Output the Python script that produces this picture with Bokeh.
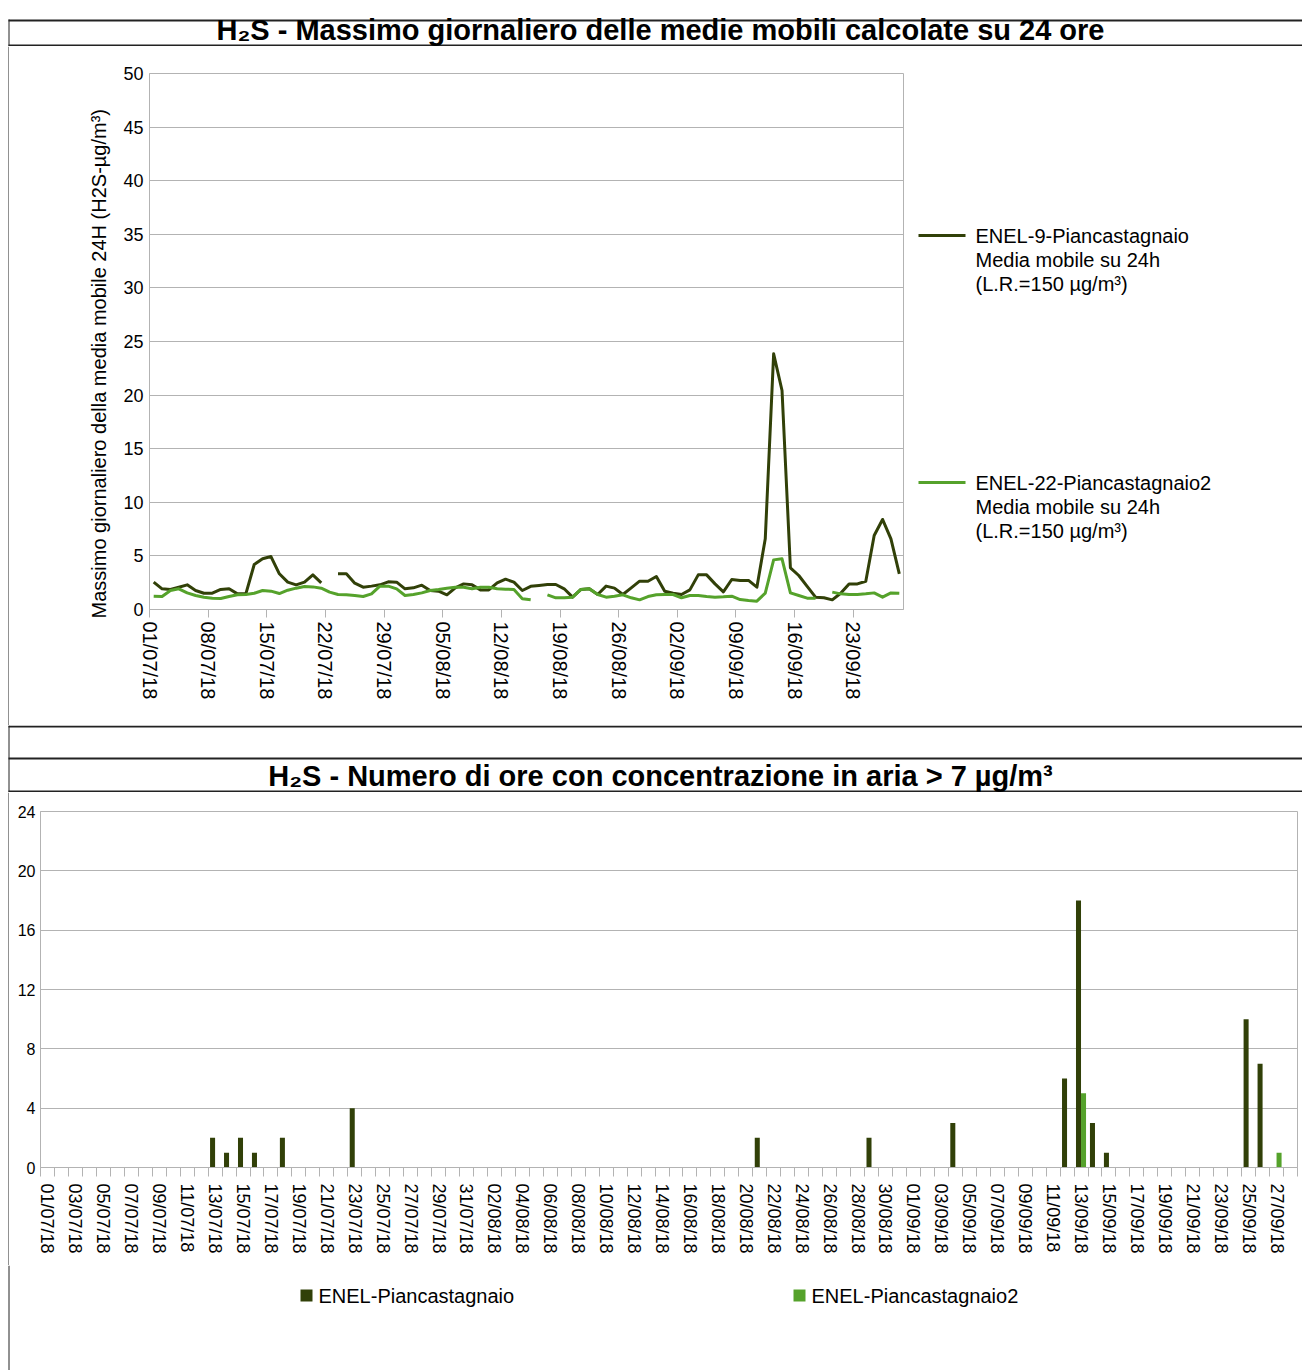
from bokeh.plotting import figure
from bokeh.layouts import column, row
from bokeh.models import Range1d, FixedTicker
from bokeh.core.properties import value
from bokeh.embed import file_html
from bokeh.resources import INLINE
from datetime import date, timedelta

NAN = float("nan")

# ---------------- data ----------------
START = date(2018, 7, 1)
DAYS = [START + timedelta(days=i) for i in range(90)]          # 01/07/18 .. 28/09/18
DATE_LABELS = [d.strftime("%d/%m/%y") for d in DAYS]

# Massimo giornaliero media mobile 24h (µg/m³)
ENEL9 = [2.55, 1.93, 1.87, 2.08, 2.30, 1.77, 1.52, 1.52, 1.87, 1.93,
         1.46, 1.46, 4.20, 4.73, 4.94, 3.33, 2.55, 2.30, 2.55, 3.23,
         2.49, NAN, 3.33, 3.33, 2.46, 2.08, 2.18, 2.30, 2.58, 2.55,
         1.93, 2.02, 2.27, 1.77, 1.71, 1.37, 2.02, 2.39, 2.30, 1.83,
         1.83, 2.49, 2.83, 2.55, 1.77, 2.16, 2.24, 2.33, 2.33, 1.93,
         1.15, 1.87, 1.93, 1.40, 2.18, 1.99, 1.40, 2.02, 2.64, 2.64,
         3.08, 1.71, 1.52, 1.40, 1.83, 3.23, 3.23, 2.39, 1.65, 2.80,
         2.71, 2.71, 2.08, 6.59, 23.85, 20.43, 3.89, 3.17, 2.15, 1.15,
         1.09, 0.90, 1.52, 2.39, 2.39, 2.64, 6.90, 8.40, 6.59, 3.33]
ENEL22 = [1.24, 1.21, 1.77, 1.93, 1.55, 1.31, 1.15, 1.06, 1.03, 1.21,
          1.37, 1.40, 1.52, 1.77, 1.71, 1.49, 1.80, 1.99, 2.15, 2.11,
          1.99, 1.62, 1.40, 1.37, 1.31, 1.21, 1.46, 2.18, 2.18, 1.93,
          1.31, 1.40, 1.55, 1.77, 1.87, 1.99, 2.08, 2.08, 1.93, 2.08,
          2.08, 1.93, 1.90, 1.87, 1.00, 0.90, NAN, 1.37, 1.09, 1.09,
          1.15, 1.87, 1.93, 1.40, 1.15, 1.24, 1.37, 1.09, 0.90, 1.21,
          1.37, 1.40, 1.40, 1.09, 1.31, 1.31, 1.21, 1.15, 1.18, 1.24,
          0.93, 0.84, 0.78, 1.52, 4.63, 4.73, 1.55, 1.31, 1.06, 1.06,
          NAN, 1.62, 1.46, 1.40, 1.40, 1.46, 1.55, 1.15, 1.55, 1.52]

# Numero di ore > 7 µg/m³
HOURS_PIANC = [0, 0, 0, 0, 0, 0, 0, 0, 0, 0,
               0, 0, 2, 1, 2, 1, 0, 2, 0, 0,
               0, 0, 4, 0, 0, 0, 0, 0, 0, 0,
               0, 0, 0, 0, 0, 0, 0, 0, 0, 0,
               0, 0, 0, 0, 0, 0, 0, 0, 0, 0,
               0, 2, 0, 0, 0, 0, 0, 0, 0, 2,
               0, 0, 0, 0, 0, 3, 0, 0, 0, 0,
               0, 0, 0, 6, 18, 3, 1, 0, 0, 0,
               0, 0, 0, 0, 0, 0, 10, 7, 0, 0]
HOURS_PIANC2 = [0, 0, 0, 0, 0, 0, 0, 0, 0, 0,
                0, 0, 0, 0, 0, 0, 0, 0, 0, 0,
                0, 0, 0, 0, 0, 0, 0, 0, 0, 0,
                0, 0, 0, 0, 0, 0, 0, 0, 0, 0,
                0, 0, 0, 0, 0, 0, 0, 0, 0, 0,
                0, 0, 0, 0, 0, 0, 0, 0, 0, 0,
                0, 0, 0, 0, 0, 0, 0, 0, 0, 0,
                0, 0, 0, 0, 5, 0, 0, 0, 0, 0,
                0, 0, 0, 0, 0, 0, 0, 0, 1, 0]

LINE_TICKS = list(range(0, 90, 7))
BAR_LABEL_TICKS = list(range(0, 90, 2))
Y1_TICKS = list(range(0, 51, 5))
Y2_TICKS = list(range(0, 25, 4))

TITLE1 = "H\u2082S - Massimo giornaliero delle medie mobili calcolate su 24 ore"
TITLE2 = "H\u2082S - Numero di ore con concentrazione in aria > 7 \u00b5g/m\u00b3"
YLABEL1 = "Massimo giornaliero della media mobile 24H  (H2S-\u00b5g/m\u00b3)"
LEG1 = ["ENEL-9-Piancastagnaio", "Media mobile su 24h", "(L.R.=150 \u00b5g/m\u00b3)"]
LEG2 = ["ENEL-22-Piancastagnaio2", "Media mobile su 24h", "(L.R.=150 \u00b5g/m\u00b3)"]
BAR_NAMES = ["ENEL-Piancastagnaio", "ENEL-Piancastagnaio2"]

# ---------------- style ----------------
DARK = "#314008"
GREEN = "#55a22b"
GRID = "#b3b3b3"
RULE = "#222222"
FONT = "Liberation Sans"
W = 1302


def pixfig(w, h):
    p = figure(width=w, height=h, x_range=Range1d(0, w), y_range=Range1d(h, 0),
               min_border=0, toolbar_location=None, output_backend="svg",
               x_axis_type=None, y_axis_type=None, outline_line_color=None,
               frame_align=False)
    return p


def leftpad(h):
    p = pixfig(9, h)
    p.segment(x0=[8.5], y0=[0], x1=[8.5], y1=[h], line_width=1, line_color=RULE)
    return p


# ---------------- header 1 (page y 0..46) ----------------
head1 = pixfig(W, 46)
head1.segment(x0=[8, 8], y0=[20, 45], x1=[W, W], y1=[20, 45], line_width=2, line_color=RULE)
head1.segment(x0=[8.5], y0=[19], x1=[8.5], y1=[46], line_width=1, line_color=RULE)
head1.text(x=[660], y=[29], text=[TITLE1], text_align="center", text_baseline="middle",
           text_font=value(FONT), text_font_style="bold", text_font_size="29px",
           text_color="#000000")

# ---------------- chart 1 (page y 46..725) ----------------
H1 = 679
p1 = figure(width=901, height=H1, x_range=Range1d(0, 90), y_range=Range1d(0, 50),
            min_border_left=140, min_border_right=7, min_border_top=27,
            min_border_bottom=116, toolbar_location=None, output_backend="svg",
            outline_line_color=GRID, frame_align=False)
xs = [i + 0.5 for i in range(90)]
p1.line(xs, ENEL9, line_width=3, line_color=DARK, line_join="round")
p1.line(xs, ENEL22, line_width=3, line_color=GREEN, line_join="round")
p1.xgrid.visible = False
p1.ygrid.grid_line_color = GRID
p1.yaxis.ticker = FixedTicker(ticks=Y1_TICKS)
p1.xaxis.ticker = FixedTicker(ticks=LINE_TICKS)
p1.xaxis.major_label_overrides = {t: DATE_LABELS[t] for t in LINE_TICKS}
p1.xaxis.major_label_orientation = "vertical"
p1.axis.axis_line_color = GRID
p1.axis.minor_tick_line_color = None
p1.xaxis.major_tick_line_color = GRID
p1.xaxis.major_tick_in = 0
p1.xaxis.major_tick_out = 8
p1.xaxis.major_label_standoff = 4
p1.yaxis.major_tick_line_color = None
p1.yaxis.major_tick_in = 0
p1.yaxis.major_tick_out = 0
p1.yaxis.major_label_standoff = 6
p1.axis.major_label_text_font = FONT
p1.axis.major_label_text_color = "#000000"
p1.xaxis.major_label_text_font_size = "20px"
p1.yaxis.major_label_text_font_size = "18px"
p1.yaxis.axis_label = YLABEL1 + "\u00a0" * 7
p1.yaxis.axis_label_text_font = FONT
p1.yaxis.axis_label_text_font_size = "20px"
p1.yaxis.axis_label_text_font_style = "normal"
p1.yaxis.axis_label_text_color = "#000000"
p1.yaxis.axis_label_standoff = 10

leg1 = pixfig(W - 910, H1)
leg1.segment(x0=[8], y0=[189], x1=[55], y1=[189], line_width=3, line_color=DARK)
leg1.segment(x0=[8], y0=[436], x1=[55], y1=[436], line_width=3, line_color=GREEN)
for k in range(3):
    leg1.text(x=[65], y=[189 + 24 * k], text=[LEG1[k]], text_baseline="middle",
              text_font=value(FONT), text_font_size="20px", text_color="#000000")
    leg1.text(x=[65], y=[436 + 24 * k], text=[LEG2[k]], text_baseline="middle",
              text_font=value(FONT), text_font_size="20px", text_color="#000000")

# ---------------- band + header 2 (page y 725..792) ----------------
band = pixfig(W, 67)
band.segment(x0=[8, 8, 8], y0=[1, 33, 66], x1=[W, W, W], y1=[1, 33, 66],
             line_width=2, line_color=RULE)
band.segment(x0=[8.5], y0=[0], x1=[8.5], y1=[67], line_width=1, line_color=RULE)
band.text(x=[660], y=[50], text=[TITLE2], text_align="center", text_baseline="middle",
          text_font=value(FONT), text_font_style="bold", text_font_size="29px",
          text_color="#000000")

# ---------------- chart 2 (page y 792..1265) ----------------
H2 = 473
p2 = figure(width=W - 9, height=H2, x_range=Range1d(-0.5, 89.5), y_range=Range1d(0, 24),
            min_border_left=31, min_border_right=5, min_border_top=19,
            min_border_bottom=98, toolbar_location=None, output_backend="svg",
            outline_line_color=GRID, frame_align=False)
r1 = p2.vbar(x=[i - 0.18 for i in range(90)], top=HOURS_PIANC, width=0.36,
             fill_color=DARK, line_color=None)
r2 = p2.vbar(x=[i + 0.18 for i in range(90)], top=HOURS_PIANC2, width=0.36,
             fill_color=GREEN, line_color=None)
p2.xgrid.visible = False
p2.ygrid.grid_line_color = GRID
p2.yaxis.ticker = FixedTicker(ticks=Y2_TICKS)
p2.xaxis.ticker = FixedTicker(ticks=BAR_LABEL_TICKS,
                              minor_ticks=[i - 0.5 for i in range(91)])
p2.xaxis.major_label_overrides = {t: DATE_LABELS[t] for t in BAR_LABEL_TICKS}
p2.xaxis.major_label_orientation = "vertical"
p2.axis.axis_line_color = GRID
p2.xaxis.major_tick_line_color = None
p2.xaxis.major_tick_in = 0
p2.xaxis.major_tick_out = 9
p2.xaxis.minor_tick_line_color = GRID
p2.xaxis.minor_tick_in = 0
p2.xaxis.minor_tick_out = 9
p2.xaxis.major_label_standoff = 7
p2.yaxis.major_tick_line_color = None
p2.yaxis.minor_tick_line_color = None
p2.yaxis.major_tick_in = 0
p2.yaxis.major_tick_out = 0
p2.yaxis.major_label_standoff = 5
p2.axis.major_label_text_font = FONT
p2.axis.major_label_text_color = "#000000"
p2.xaxis.major_label_text_font_size = "18px"
p2.yaxis.major_label_text_font_size = "16px"

# ---------------- legend of chart 2 (page y 1265..1370) ----------------
foot = pixfig(W, 105)
foot.segment(x0=[8.5], y0=[0], x1=[8.5], y1=[105], line_width=1, line_color=RULE)
foot.rect(x=[306], y=[30], width=12, height=12, fill_color=DARK, line_color=None)
foot.rect(x=[799], y=[30], width=12, height=12, fill_color=GREEN, line_color=None)
foot.text(x=[318, 811], y=[30, 30], text=BAR_NAMES, text_baseline="middle",
          text_font=value(FONT), text_font_size="20px", text_color="#000000")

layout = column(head1, row(leftpad(H1), p1, leg1), band, row(leftpad(H2), p2), foot)

open("out.html", "w").write(file_html(layout, INLINE))
